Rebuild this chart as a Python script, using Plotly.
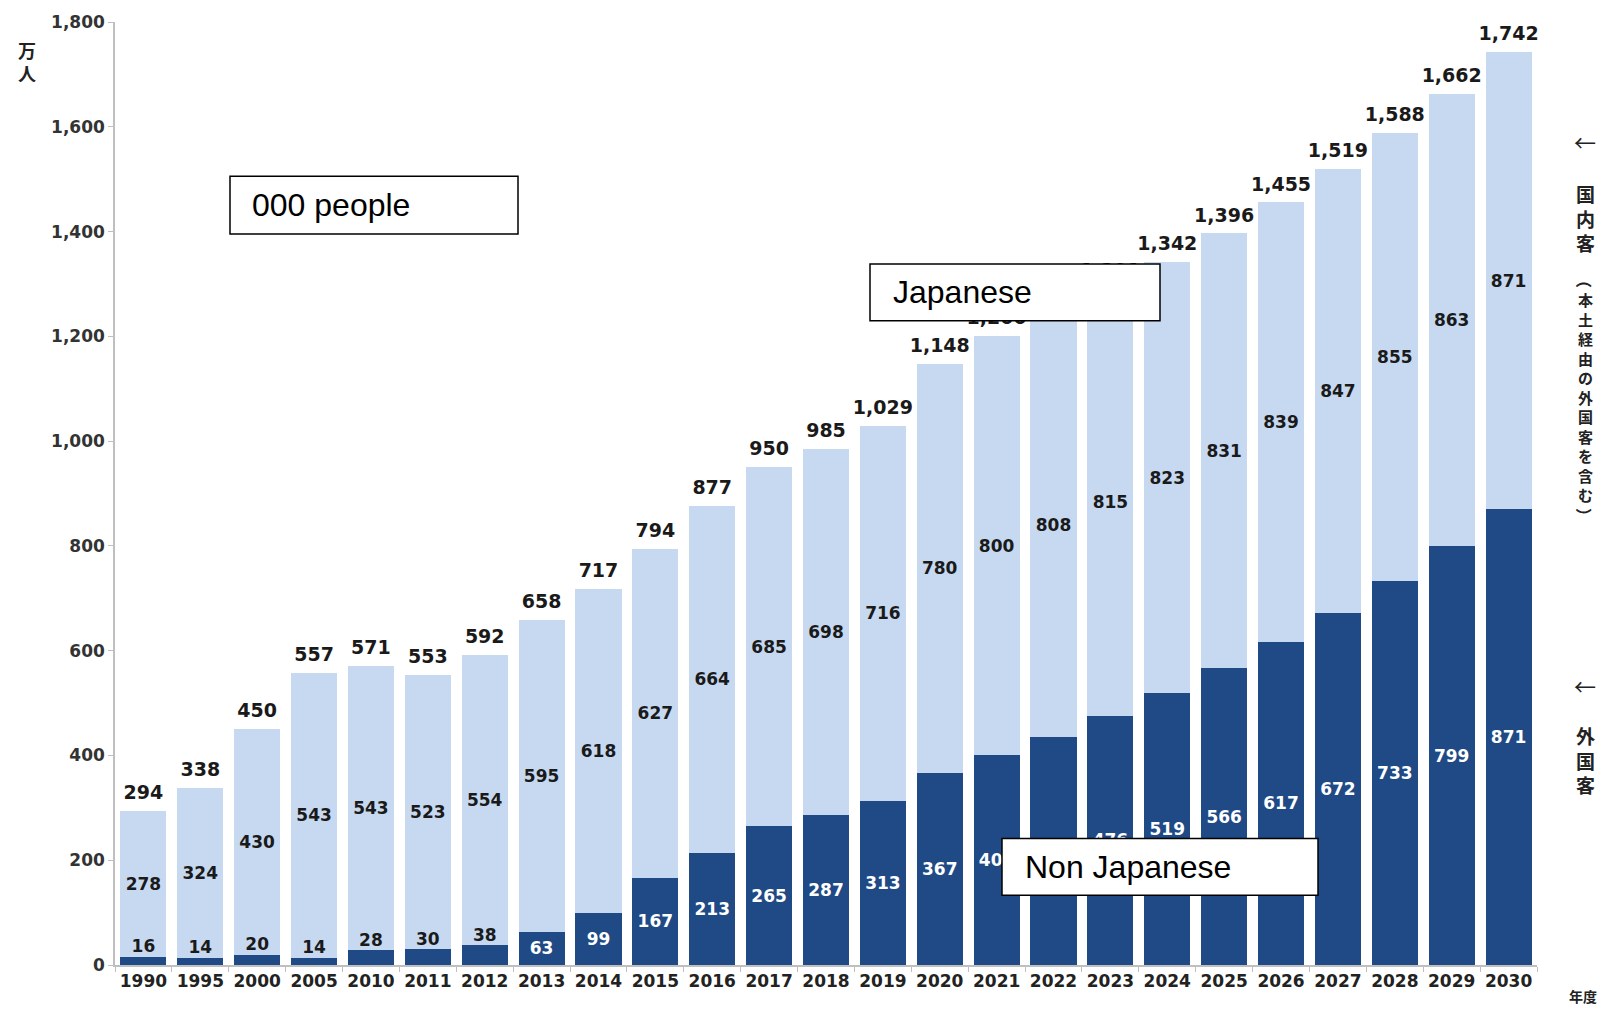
import plotly.graph_objects as go

# ---------------- data ----------------
years = ["1990", "1995", "2000", "2005", "2010", "2011", "2012", "2013", "2014",
         "2015", "2016", "2017", "2018", "2019", "2020", "2021", "2022", "2023",
         "2024", "2025", "2026", "2027", "2028", "2029", "2030"]
foreign = [16, 14, 20, 14, 28, 30, 38, 63, 99, 167, 213, 265, 287, 313, 367, 400,
           436, 476, 519, 566, 617, 672, 733, 799, 871]
domestic = [278, 324, 430, 543, 543, 523, 554, 595, 618, 627, 664, 685, 698, 716,
            780, 800, 808, 815, 823, 831, 839, 847, 855, 863, 871]
totals = [294, 338, 450, 557, 571, 553, 592, 658, 717, 794, 877, 950, 985, 1029,
          1148, 1200, 1244, 1291, 1342, 1396, 1455, 1519, 1588, 1662, 1742]
y_ticks = [0, 200, 400, 600, 800, 1000, 1200, 1400, 1600, 1800]

# ---------------- layout constants ----------------
W, H = 1609, 1009
L, R, T, B = 115, 72, 18, 44
PW, PH = W - L - R, H - T - B


def xp(px):
    return (px - L) / PW


def yp(py):
    return (H - B - py) / PH


NUM = "DejaVu Sans, Liberation Sans, sans-serif"
FONT = "Liberation Sans, Arial, sans-serif"
CJK = "Noto Sans CJK JP, sans-serif"
LIGHT = "#C6D9F1"
DARK = "#1F4A85"
INK = "#1A1A1A"
SMALL = 50

dark_text = [f"{v:,}" if v >= SMALL else "" for v in foreign]
small_x = [y for y, v in zip(years, foreign) if v < SMALL]
small_v = [v for v in foreign if v < SMALL]

fig = go.Figure()
fig.add_trace(go.Bar(
    x=years, y=foreign, marker=dict(color=DARK, line=dict(width=0)),
    text=dark_text, textposition="inside", insidetextanchor="middle", textangle=0,
    textfont=dict(family=NUM, size=17, color="white", weight="bold"),
    showlegend=False, hoverinfo="skip"))
fig.add_trace(go.Bar(
    x=years, y=domestic, marker=dict(color=LIGHT, line=dict(width=0)),
    text=[f"{v:,}" for v in domestic], textposition="inside",
    insidetextanchor="middle", textangle=0,
    textfont=dict(family=NUM, size=17, color=INK, weight="bold"),
    showlegend=False, hoverinfo="skip"))
fig.add_trace(go.Scatter(
    x=small_x, y=small_v, mode="text", text=[str(v) for v in small_v],
    textposition="top center",
    textfont=dict(family=NUM, size=17, color=INK, weight="bold"),
    showlegend=False, hoverinfo="skip", cliponaxis=False))
fig.add_trace(go.Scatter(
    x=years, y=totals, mode="markers+text", text=[f"{v:,}" for v in totals],
    textposition="top center", marker=dict(size=10, opacity=0),
    textfont=dict(family=NUM, size=19, color=INK, weight="bold"),
    showlegend=False, hoverinfo="skip", cliponaxis=False))

fig.update_layout(
    width=W, height=H, barmode="stack", bargap=0.19,
    margin=dict(l=L, r=R, t=T, b=B),
    paper_bgcolor="white", plot_bgcolor="white",
    xaxis=dict(type="category", range=[-0.5, len(years) - 0.5], showgrid=False,
               showline=True, linecolor="#BFBFBF",
               linewidth=1.5, ticks="outside", tickson="boundaries", ticklen=5,
               tickcolor="#BFBFBF",
               tickfont=dict(family=NUM, size=17, color="#222222", weight="bold")),
    yaxis=dict(range=[0, 1800], tickvals=y_ticks, tickformat=",d", showgrid=False,
               zeroline=False, showline=True, linecolor="#BFBFBF", linewidth=1.5,
               ticks="outside", ticklen=5, tickcolor="#BFBFBF",
               tickfont=dict(family=NUM, size=17, color="#333333", weight="bold")),
)

ann = dict(showarrow=False, xref="paper", yref="paper", xanchor="center", yanchor="middle")

# unit labels
fig.add_annotation(x=xp(27), y=yp(58), text="万<br>人",
                   font=dict(family=CJK, size=18, color="#222222", weight="bold"), **ann)
fig.add_annotation(x=xp(1583), y=yp(996), text="年度",
                   font=dict(family=CJK, size=14, color="#222222", weight="bold"), **ann)

# right side vertical labels
SX = 1585
fig.add_annotation(x=xp(SX), y=yp(138), text="←",
                   font=dict(family=CJK, size=22, color="#222222"), **ann)
fig.add_annotation(x=xp(SX), y=yp(215), text="国<br>内<br>客",
                   font=dict(family=CJK, size=19, color="#222222", weight="bold"), **ann)
fig.add_annotation(x=xp(SX), y=yp(277), text="（", textangle=90,
                   font=dict(family=CJK, size=16, color="#222222", weight="bold"), **ann)
fig.add_annotation(x=xp(SX), y=yp(395),
                   text="<br>".join(list("本土経由の外国客を含む")),
                   font=dict(family=CJK, size=15, color="#222222", weight="bold"), **ann)
fig.add_annotation(x=xp(SX), y=yp(514), text="）", textangle=90,
                   font=dict(family=CJK, size=16, color="#222222", weight="bold"), **ann)
fig.add_annotation(x=xp(SX), y=yp(684), text="←",
                   font=dict(family=CJK, size=22, color="#222222"), **ann)
fig.add_annotation(x=xp(SX), y=yp(759), text="外<br>国<br>客",
                   font=dict(family=CJK, size=19, color="#222222", weight="bold"), **ann)

# overlay boxes
boxes = [
    ("000 people", 230, 518, 173, 231, 250),
    ("Japanese", 870, 1160, 261, 318, 891),
    ("Non Japanese", 1002, 1318, 838, 895, 1023),
]
for text, x0, x1, y0, y1, tx in boxes:
    fig.add_shape(type="rect", xref="paper", yref="paper",
                  x0=xp(x0), x1=xp(x1), y0=yp(y1), y1=yp(y0),
                  fillcolor="white", line=dict(color="black", width=1.5), layer="above")
    fig.add_annotation(xref="paper", yref="paper", x=xp(tx), y=yp((y0 + y1) / 2),
                       xanchor="left", yanchor="middle", text=text, showarrow=False,
                       font=dict(family=FONT, size=32, color="black"))

fig.write_html("out.html", config={"displayModeBar": False},
               post_script="document.body.style.margin='0px';")
